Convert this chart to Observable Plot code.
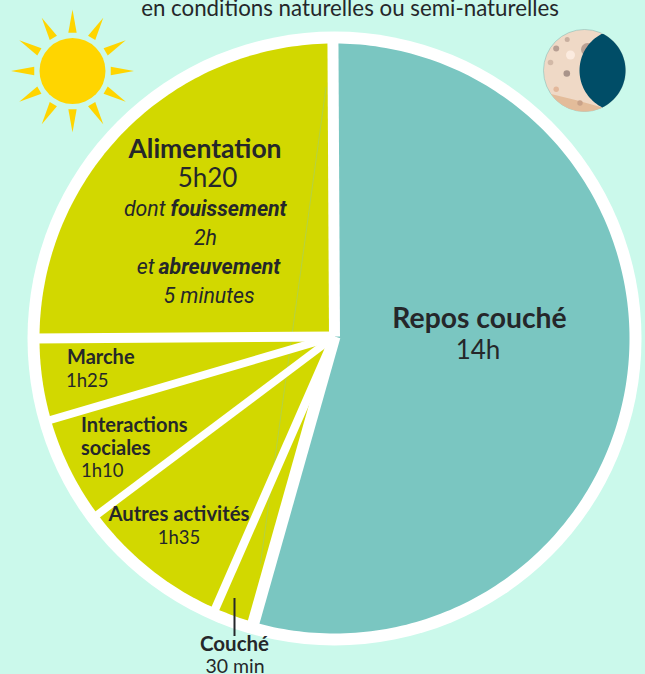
<!DOCTYPE html>
<html>
<head>
<meta charset="utf-8">
<script src="https://cdn.jsdelivr.net/npm/d3@7"></script>
<script src="https://cdn.jsdelivr.net/npm/@observablehq/plot@0.6"></script>
<style>
html,body{margin:0;padding:0;background:#CBF9EB;overflow:hidden}
svg{display:block}
</style>
</head>
<body>
<div id="chart"></div>
<script>
// Slices clockwise from 12 o'clock; spans are the angles as drawn in the picture (degrees)
const sliceNames = ["Repos couché", "Couché", "Autres activités", "Interactions sociales", "Marche", "Alimentation"];
const sliceDurations = ["14h", "30 min", "1h35", "1h10", "1h25", "5h20"];
const sliceSpans = [195.9, 7.9, 29.6, 20.6, 16, 89.7];
const subtitle = "en conditions naturelles ou semi-naturelles";
const sliceDetails = ["dont", "fouissement", "2h", "et", "abreuvement", "5 minutes"];

const bg = "#CBF9EB", teal = "#7AC6C1", lime = "#D2D800", ink = "#25272A", sunCol = "#FFD500";
const sans = "Lato, sans-serif", ital = "Roboto, 'Liberation Sans', sans-serif";

const cx = 334, cy = 338, R = 295;
const pt = (deg, r, x0 = cx, y0 = cy) => {
  const a = deg * Math.PI / 180;
  return {x: x0 + r * Math.sin(a), y: y0 - r * Math.cos(a)};
};
const arcRows = (a0, a1, r, x0, y0, n) => d3.range(n + 1).map(i => pt(a0 + (a1 - a0) * i / n, r, x0, y0));

// slices
let acc = 0;
const sliceRows = [], dividers = [];
sliceNames.forEach((name, i) => {
  const a0 = acc, a1 = acc + sliceSpans[i];
  sliceRows.push({name, ...pt(0, 0)});
  arcRows(a0, a1, R, cx, cy, Math.ceil(sliceSpans[i])).forEach(p => sliceRows.push({name, ...p}));
  dividers.push({angle: a1, ...pt(a1, 301)});
  acc = a1;
});
const dividerWidths = [12, 8.5, 7.5, 8, 10, 11];
const seam = [{x: 325.5, y: 87}, {x: 260, y: 563}];

// sun
const sunX = 72, sunY = 70.5;
const rays = d3.range(12).flatMap(i => {
  const a = i * 30;
  return [pt(a - 6.2, 38.5, sunX, sunY), pt(a, 61.5, sunX, sunY), pt(a + 6.2, 38.5, sunX, sunY)].map(p => ({ray: i, ...p}));
});

// moon
const mx = 584, my = 70, mr = 41;
const lens = [
  ...arcRows(25.6, 154.4, mr, mx, my, 40),
  ...arcRows(206.7, 333.3, 41.3, 620.3, 70, 40)
];
const band = [
  {x: 602, y: 107}, {x: 575, y: 99.5},
  ...arcRows(235, 155, mr, mx, my, 30)
];
const craters = [
  {x: 566.7, y: 39, r: 2.5, c: "#C8AF9F"}, {x: 555.7, y: 48, r: 3, c: "#B79F93"},
  {x: 570, y: 54.5, r: 4.5, c: "#FBEBDF"}, {x: 550, y: 62, r: 2.8, c: "#D2B9A7"},
  {x: 566.3, y: 73, r: 3.3, c: "#A9948A"}, {x: 555.7, y: 88.7, r: 2.7, c: "#E3B89B"},
  {x: 579.5, y: 102.5, r: 2.7, c: "#C9A288"}, {x: 587, y: 49, r: 6.5, c: "#B9A093"}
];

const T = (s, x, y, o = {}) => Plot.text([s], {
  x: () => x, y: () => y, text: d => d, lineAnchor: "bottom", textAnchor: "middle",
  fontFamily: sans, fontSize: 18.5, fill: ink, ...o
});
const bold = {fontWeight: 700};
const small = {...bold, fontSize: 20};
const it = {fontFamily: ital, fontStyle: "italic", fontSize: 21.3};
const itb = {...it, fontWeight: 700};

const chart = Plot.plot({
  width: 645, height: 674, margin: 0,
  x: {domain: [0, 645], range: [0, 645], axis: null},
  y: {domain: [0, 674], range: [0, 674], axis: null},
  r: {type: "identity"},
  style: {background: bg},
  marks: [
    Plot.dot([0], {x: () => cx, y: () => 338, r: 307, fill: "white"}),
    Plot.line(sliceRows, {x: "x", y: "y", z: "name", fill: d => d.name === sliceNames[0] ? teal : lime, stroke: null}),
    Plot.line(seam, {x: "x", y: "y", stroke: teal, strokeWidth: 0.7, strokeOpacity: 0.5}),
    Plot.link(dividers, {x1: () => cx, y1: () => cy - 2, x2: "x", y2: "y",
      strokeWidth: (d, i) => dividerWidths[i], stroke: "white", strokeLinecap: "butt"}),
    // sun
    Plot.line(rays, {x: "x", y: "y", z: "ray", fill: sunCol, stroke: null}),
    Plot.dot([0], {x: () => sunX, y: () => sunY, r: 33, fill: sunCol}),
    // moon
    Plot.dot([0], {x: () => mx, y: () => my, r: mr, fill: "#EFD9C6", stroke: "#7FB5B0", strokeWidth: 0.5}),
    Plot.line(band, {x: "x", y: "y", fill: "#E3BC9A", stroke: null}),
    Plot.dot(craters, {x: "x", y: "y", r: "r", fill: "c"}),
    Plot.line(lens, {x: "x", y: "y", fill: "#004D67", stroke: null}),
    // tick
    Plot.ruleX([234], {y1: 598, y2: 636, stroke: ink, strokeWidth: 2}),
    // text
    T(subtitle, 349.5, 15, {fontSize: 22.3}),
    T(sliceNames[5], 204.5, 157, {...bold, fontSize: 26.5}),
    T(sliceDurations[5], 207, 186, {fontSize: 26}),
    T(sliceDetails[0], 165, 215, {...it, textAnchor: "end"}),
    T(sliceDetails[1], 170, 215, {...itb, textAnchor: "start"}),
    T(sliceDetails[2], 205, 244, it),
    T(sliceDetails[3], 154, 273, {...it, textAnchor: "end"}),
    T(sliceDetails[4], 158, 273, {...itb, textAnchor: "start"}),
    T(sliceDetails[5], 208.5, 302, it),
    T(sliceNames[0], 479, 327, {...bold, fontSize: 28.3}),
    T(sliceDurations[0], 477.5, 358, {fontSize: 26}),
    T(sliceNames[4], 66.5, 363, {...small, textAnchor: "start"}),
    T(sliceDurations[4], 65.5, 386, {textAnchor: "start"}),
    T("Interactions", 80.5, 431, {...small, textAnchor: "start"}),
    T("sociales", 80.5, 454, {...small, textAnchor: "start"}),
    T(sliceDurations[3], 80.5, 476, {textAnchor: "start"}),
    T(sliceNames[2], 178.5, 520, {...small, fontSize: 20.3}),
    T(sliceDurations[2], 178.5, 543),
    T(sliceNames[1], 234, 650, {...small, fontSize: 20.5}),
    T(sliceDurations[1], 234.5, 672, {fontSize: 19.5})
  ]
});
document.getElementById("chart").appendChild(chart);
</script>
</body>
</html>
